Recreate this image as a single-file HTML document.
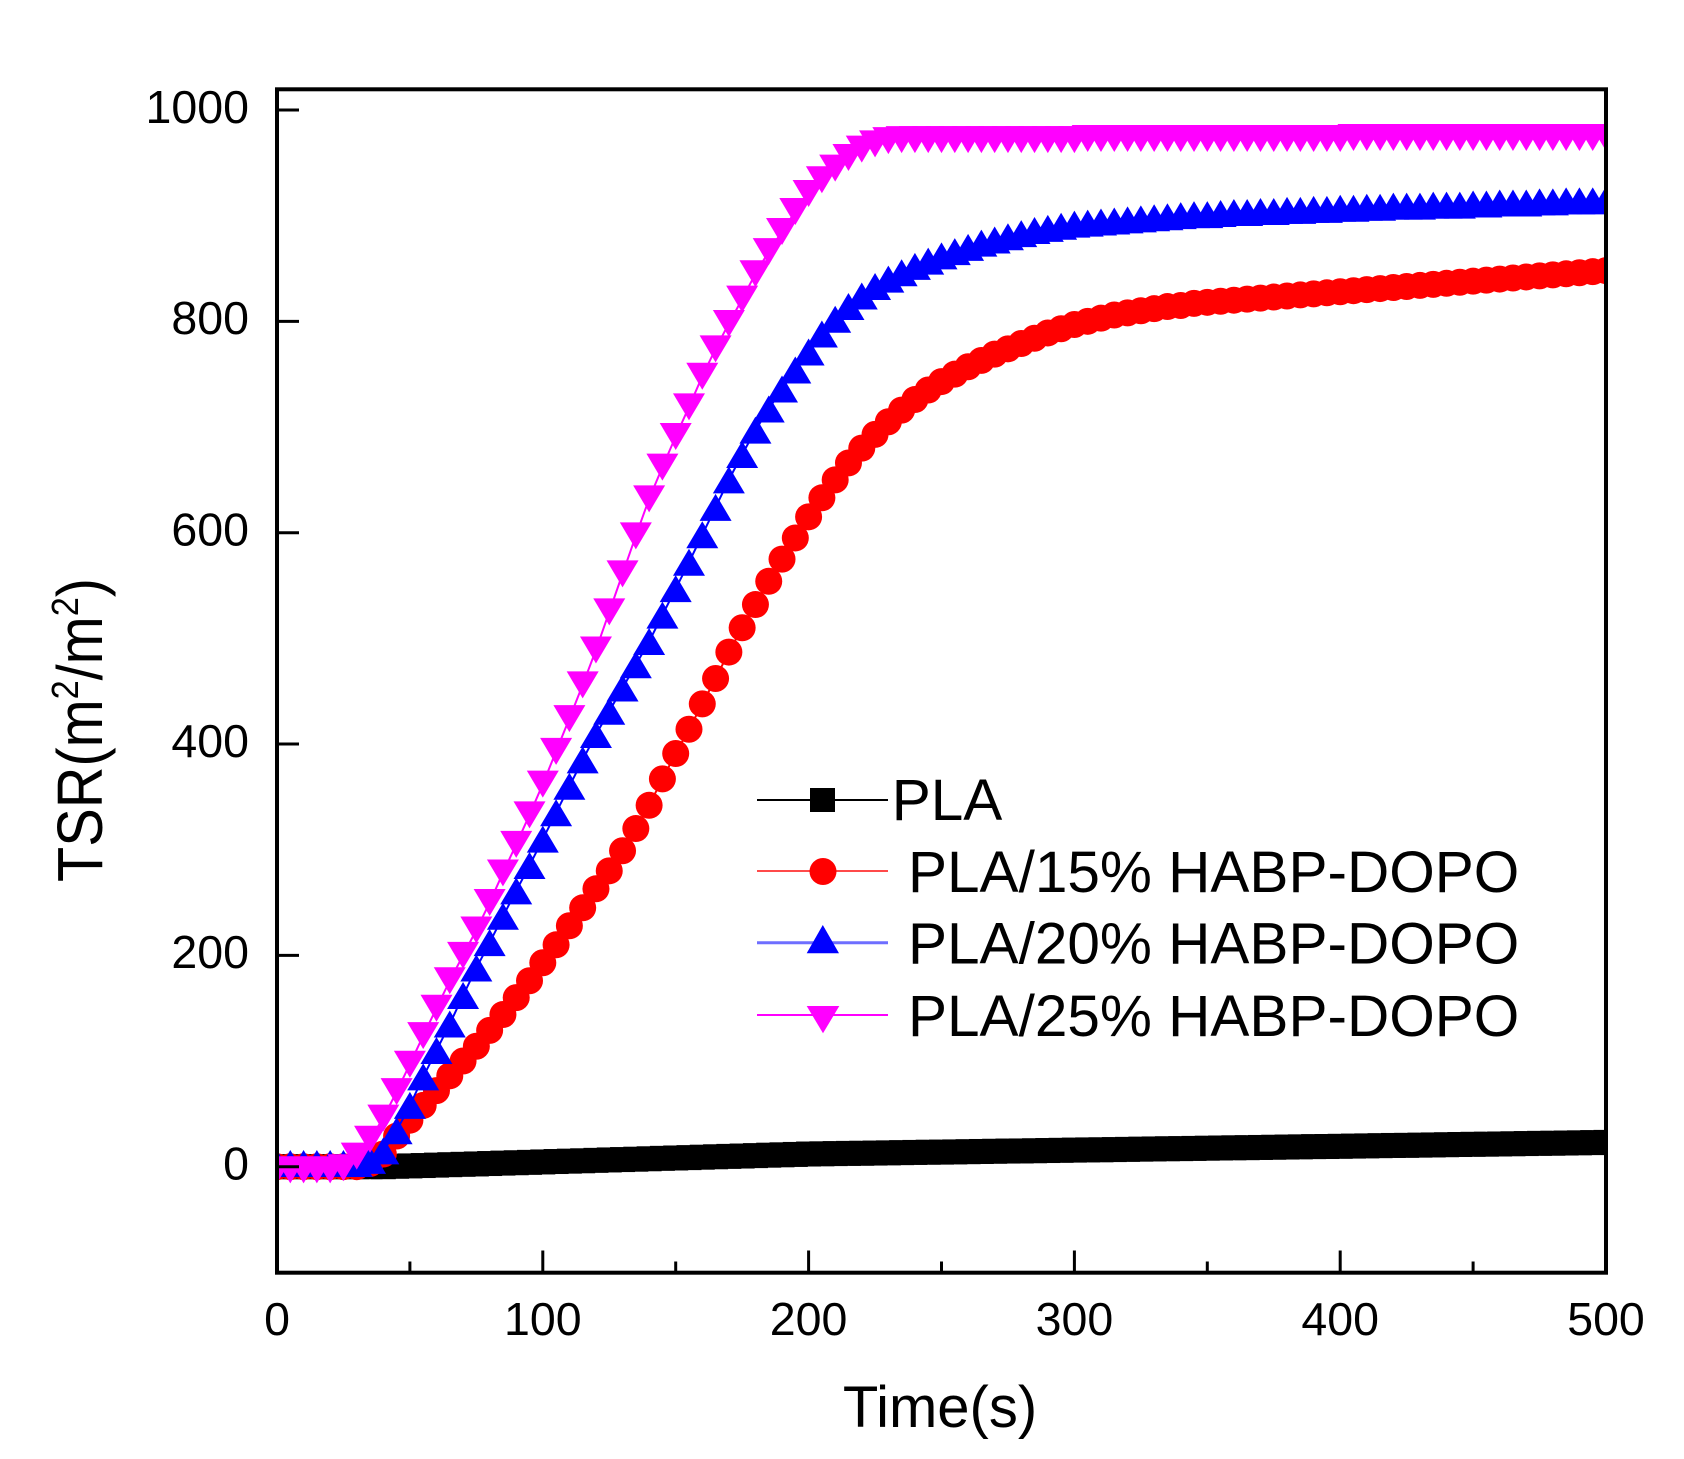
<!DOCTYPE html>
<html>
<head>
<meta charset="utf-8">
<style>
html,body{margin:0;padding:0;background:#fff;}
svg{display:block;}
text{font-family:"Liberation Sans",Arial,sans-serif;fill:#000;}
</style>
</head>
<body>
<svg xmlns="http://www.w3.org/2000/svg" width="1684" height="1459" viewBox="0 0 1684 1459">
<defs>
  <clipPath id="plotclip"><rect x="277" y="89.3" width="1329" height="1183.4"/></clipPath>
  <marker id="mSq" markerUnits="userSpaceOnUse" markerWidth="9.406" markerHeight="23.66" viewBox="-12.5 -12.5 25 25" refX="0" refY="0" preserveAspectRatio="none" overflow="visible">
    <rect x="-12.5" y="-12.5" width="25" height="25" fill="#000"/>
  </marker>
  <marker id="mCi" markerUnits="userSpaceOnUse" markerWidth="10.158" markerHeight="25.55" viewBox="-13.5 -13.5 27 27" refX="0" refY="0" preserveAspectRatio="none" overflow="visible">
    <circle cx="0" cy="0" r="13.5" fill="#ff0000"/>
  </marker>
  <marker id="mUp" markerUnits="userSpaceOnUse" markerWidth="12.04" markerHeight="25.55" viewBox="-16 -13.5 32 27" refX="0" refY="0" preserveAspectRatio="none" overflow="visible">
    <polygon points="-16,-13.5 16,-13.5 0,13.5" fill="#0000ff"/>
  </marker>
  <marker id="mDn" markerUnits="userSpaceOnUse" markerWidth="12.04" markerHeight="25.55" viewBox="-16 -13.5 32 27" refX="0" refY="0" preserveAspectRatio="none" overflow="visible">
    <polygon points="-16,13.5 16,13.5 0,-13.5" fill="#ff00ff"/>
  </marker>
</defs>

<rect x="0" y="0" width="1684" height="1459" fill="#fff"/>

<!-- data -->
<g clip-path="url(#plotclip)">
<g transform="translate(277,1166.7) scale(2.658,-1.0567)">
  <!-- PLA (black squares) -->
  <polyline fill="none" stroke="#000" stroke-width="2" vector-effect="non-scaling-stroke"
    marker-start="url(#mSq)" marker-mid="url(#mSq)" marker-end="url(#mSq)"
    points="0,0 5,0 10,0 15,0 20,0 25,0 30,0 35,0 40,0 45,0.4 50,0.75 55,1.1 60,1.5 65,1.9 70,2.25 75,2.6 80,3 85,3.4 90,3.75 95,4.1 100,4.5 105,4.9 110,5.25 115,5.6 120,6 125,6.4 130,6.75 135,7.1 140,7.5 145,7.9 150,8.25 155,8.6 160,9 165,9.4 170,9.75 175,10.1 180,10.5 185,10.9 190,11.25 195,11.6 200,12 205,12.2 210,12.4 215,12.6 220,12.7 225,12.9 230,13.1 235,13.3 240,13.5 245,13.7 250,13.8 255,14 260,14.2 265,14.4 270,14.6 275,14.8 280,14.9 285,15.1 290,15.3 295,15.5 300,15.7 305,15.9 310,16 315,16.2 320,16.4 325,16.6 330,16.8 335,17 340,17.1 345,17.3 350,17.5 355,17.7 360,17.9 365,18 370,18.2 375,18.4 380,18.6 385,18.8 390,19 395,19.1 400,19.3 405,19.5 410,19.7 415,19.9 420,20.1 425,20.2 430,20.4 435,20.6 440,20.8 445,21 450,21.2 455,21.3 460,21.5 465,21.7 470,21.9 475,22.1 480,22.2 485,22.4 490,22.6 495,22.8 500,23"/>
  <!-- PLA/15% (red circles) -->
  <polyline fill="none" stroke="#ff0000" stroke-width="2" vector-effect="non-scaling-stroke"
    marker-start="url(#mCi)" marker-mid="url(#mCi)" marker-end="url(#mCi)"
    points="0,0 5,0 10,0 15,0 20,0 25,0 30,0 35,3 40,12 45,29 50,44 55,58 60,72 65,86 70,100 75,114 80,129 85,144 90,160 95,176 100,193 105,210 110,228 115,245 120,263 125,280 130,299 135,320 140,342 145,367 150,391 155,414 160,438 165,462 170,487 175,510 180,532 185,554 190,575 195,595 200,615 205,633 210,650 215,666 220,680 225,693 230,705 235,716 240,726 245,735 250,743 255,750 260,757 265,763 270,769 275,774 280,779 285,784 290,789 295,793 300,797 305,800 310,803 315,806 320,808 325,810 330,812 335,814 340,815 345,817 350,818 355,819 360,820 365,821 370,822 375,823 380,824 385,825 390,826 395,827 400,828 405,829 410,830 415,831 420,832 425,833 430,834 435,835 440,836 445,837 450,838 455,839 460,840 465,841 470,842 475,843 480,844 485,845 490,846 495,847 500,848"/>
  <!-- PLA/20% (blue up triangles) -->
  <polyline fill="none" stroke="#0000ff" stroke-width="2" vector-effect="non-scaling-stroke"
    marker-start="url(#mUp)" marker-mid="url(#mUp)" marker-end="url(#mUp)"
    points="0,3 5,3 10,3 15,3 20,3 25,3 30,3 35,6 40,15 45,34 50,58 55,85 60,110 65,135 70,162 75,188 80,212 85,237 90,261 95,285 100,310 105,335 110,360 115,385 120,409 125,431 130,453 135,475 140,497 145,522 150,547 155,572 160,598 165,624 170,650 175,674 180,697 185,717 190,736 195,754 200,771 205,788 210,802 215,814 220,824 225,833 230,840 235,846 240,852 245,857 250,862 255,866 260,870 265,874 270,877 275,880 280,883 285,886 290,888 295,890 300,892 305,893 310,894 315,895 320,896 325,897 330,898 335,899 340,900 345,901 350,901 355,902 360,903 365,903 370,904 375,904 380,905 385,905 390,906 395,906 400,907 405,907 410,908 415,908 420,909 425,909 430,909 435,910 440,910 445,910 450,911 455,911 460,912 465,912 470,912 475,913 480,913 485,914 490,914 495,914 500,915"/>
  <!-- PLA/25% (magenta down triangles) -->
  <polyline fill="none" stroke="#ff00ff" stroke-width="2" vector-effect="non-scaling-stroke"
    marker-start="url(#mDn)" marker-mid="url(#mDn)" marker-end="url(#mDn)"
    points="0,-3 5,-3 10,-3 15,-3 20,-3 25,-1 30,10 35,26 40,46 45,71 50,97 55,124 60,150 65,176 70,200 75,224 80,250 85,278 90,305 95,333 100,362 105,393 110,424 115,456 120,489 125,525 130,561 135,597 140,632 145,662 150,691 155,719 160,748 165,774 170,798 175,821 180,845 185,866 190,885 195,904 200,921 205,934 210,945 215,955 220,963 225,968 230,971 235,972 240,972 245,972 250,972 255,972 260,972 265,972 270,972 275,972 280,972 285,972 290,972 295,972 300,972 305,973 310,973 315,973 320,973 325,973 330,973 335,973 340,973 345,973 350,973 355,973 360,973 365,973 370,973 375,973 380,973 385,973 390,973 395,973 400,973 405,974 410,974 415,974 420,974 425,974 430,974 435,974 440,974 445,974 450,974 455,974 460,974 465,974 470,974 475,974 480,974 485,974 490,974 495,974 500,974"/>
</g>
</g>

<!-- frame -->
<rect x="277" y="89.3" width="1329" height="1183.4" fill="none" stroke="#000" stroke-width="4"/>

<!-- y ticks -->
<g stroke="#000" stroke-width="3">
  <line x1="277" y1="1166.7" x2="299" y2="1166.7"/>
  <line x1="277" y1="955.4" x2="299" y2="955.4"/>
  <line x1="277" y1="744.0" x2="299" y2="744.0"/>
  <line x1="277" y1="532.7" x2="299" y2="532.7"/>
  <line x1="277" y1="321.4" x2="299" y2="321.4"/>
  <line x1="277" y1="110.0" x2="299" y2="110.0"/>
</g>
<!-- x ticks -->
<g stroke="#000" stroke-width="3">
  <line x1="542.8" y1="1272.7" x2="542.8" y2="1250.5"/>
  <line x1="808.6" y1="1272.7" x2="808.6" y2="1250.5"/>
  <line x1="1074.4" y1="1272.7" x2="1074.4" y2="1250.5"/>
  <line x1="1340.2" y1="1272.7" x2="1340.2" y2="1250.5"/>
  <line x1="409.9" y1="1272.7" x2="409.9" y2="1261.5"/>
  <line x1="675.7" y1="1272.7" x2="675.7" y2="1261.5"/>
  <line x1="941.5" y1="1272.7" x2="941.5" y2="1261.5"/>
  <line x1="1207.3" y1="1272.7" x2="1207.3" y2="1261.5"/>
  <line x1="1473.1" y1="1272.7" x2="1473.1" y2="1261.5"/>
</g>

<!-- y tick labels -->
<g font-size="46.5" text-anchor="end">
  <text x="249" y="1179.5">0</text>
  <text x="249" y="968.2">200</text>
  <text x="249" y="756.8">400</text>
  <text x="249" y="545.5">600</text>
  <text x="249" y="334.2">800</text>
  <text x="249" y="122.8">1000</text>
</g>
<!-- x tick labels -->
<g font-size="46.5" text-anchor="middle">
  <text x="277" y="1335">0</text>
  <text x="542.8" y="1335">100</text>
  <text x="808.6" y="1335">200</text>
  <text x="1074.4" y="1335">300</text>
  <text x="1340.2" y="1335">400</text>
  <text x="1606" y="1335">500</text>
</g>

<!-- axis titles -->
<text x="940" y="1427" font-size="58" text-anchor="middle">Time(s)</text>
<text transform="translate(102,882) rotate(-90)" font-size="64" text-anchor="start" textLength="304" lengthAdjust="spacingAndGlyphs">TSR(m<tspan font-size="38" dy="-24">2</tspan><tspan dy="24">/m</tspan><tspan font-size="38" dy="-24">2</tspan><tspan dy="24">)</tspan></text>

<!-- legend -->
<line x1="757" y1="800" x2="888" y2="800" stroke="#000" stroke-width="2"/>
<rect x="810" y="788" width="25" height="24" fill="#000"/>
<text x="891.7" y="820" font-size="58.5">PLA</text>

<line x1="757" y1="871" x2="888" y2="871" stroke="#ff4a4a" stroke-width="2"/>
<circle cx="823" cy="871.5" r="13.5" fill="#ff0000"/>
<text x="908" y="892" font-size="58.5">PLA/15% HABP-DOPO</text>

<line x1="757" y1="942.7" x2="888" y2="942.7" stroke="#6e6eff" stroke-width="3"/>
<polygon points="806.7,953.3 839,953.3 822.8,925" fill="#0000ff"/>
<text x="908" y="963.7" font-size="58.5">PLA/20% HABP-DOPO</text>

<line x1="757" y1="1015" x2="888" y2="1015" stroke="#ff00ff" stroke-width="2"/>
<polygon points="806.7,1006 839.3,1006 823,1033.3" fill="#ff00ff"/>
<text x="908" y="1036" font-size="58.5">PLA/25% HABP-DOPO</text>
</svg>
</body>
</html>
